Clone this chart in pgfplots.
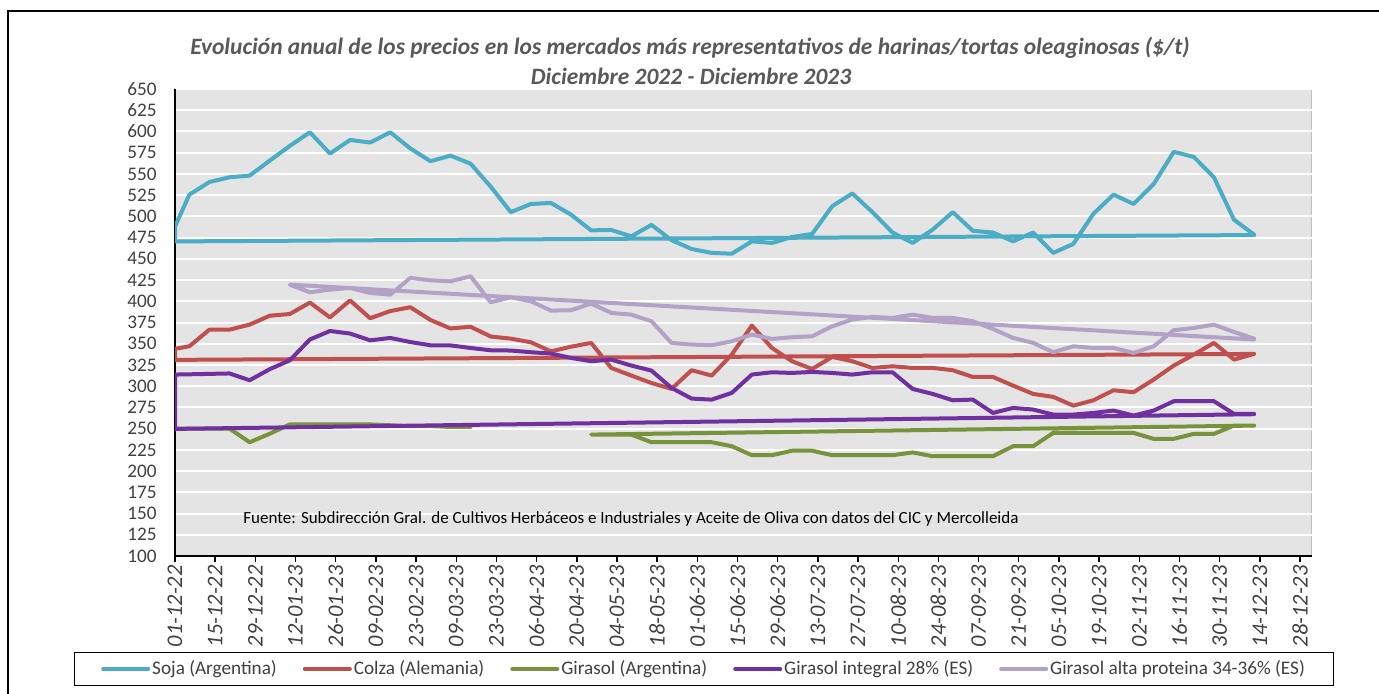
\documentclass[border=0pt]{standalone}
\usepackage{pgfplots}
\pgfplotsset{compat=1.18}
\usepackage{fontspec}
\setmainfont{Carlito}
\definecolor{soja}{HTML}{4BACC6}
\definecolor{colza}{HTML}{C0504D}
\definecolor{girasol}{HTML}{77933C}
\definecolor{integral}{HTML}{7030A0}
\definecolor{alta}{HTML}{B3A2C7}
\definecolor{plotbg}{HTML}{E4E4E4}
\definecolor{plotbd}{HTML}{BFBFBF}
\definecolor{titlegray}{HTML}{595959}
\definecolor{ticktext}{HTML}{404040}
\begin{document}
\begin{tikzpicture}
\path[use as bounding box] (0,0) rectangle (689.5pt,346.5pt);
\draw[black, line width=0.6pt] (4pt,-2pt) -- (4pt,341pt) -- (692pt,341pt);
\begin{axis}[
  at={(87.5pt,68.5pt)}, anchor=south west,
  scale only axis, width=568.25pt, height=233.5pt,
  xmin=0, xmax=396, ymin=100, ymax=650,
  axis lines=left, axis line style={-, black, line width=0.7pt},
  axis background/.style={fill=plotbg, draw=plotbd, line width=0.7pt},
  ymajorgrids, grid style={white, line width=1pt},
  ytick={100,125,...,650},
  xtick={0,14,...,392},
  xticklabels={01-12-22,15-12-22,29-12-22,12-01-23,26-01-23,09-02-23,23-02-23,09-03-23,23-03-23,06-04-23,20-04-23,04-05-23,18-05-23,01-06-23,15-06-23,29-06-23,13-07-23,27-07-23,10-08-23,24-08-23,07-09-23,21-09-23,05-10-23,19-10-23,02-11-23,16-11-23,30-11-23,14-12-23,28-12-23},
  tick align=outside,
  x tick style={black, line width=0.7pt},
  xtick pos=bottom,
  major tick length=3pt,
  y tick style={draw=none},
  /pgf/number format/assume math mode=true,
  ticklabel style={font=\fontsize{9.6}{11}\selectfont, text=ticktext},
  yticklabel style={anchor=east, inner sep=0pt, xshift=-6pt},
  xticklabel style={yshift=-1.5pt, font=\fontsize{11.2}{13}\selectfont\itshape, rotate=90, anchor=east, inner sep=0pt},
  unbounded coords=jump,
  every axis plot/.append style={line width=2pt, line cap=round, line join=round},
  legend columns=5,
  legend cell align=left,
  legend image code/.code={\draw[#1] (0pt,0pt) -- (22.5pt,0pt);},
  legend style={at={(0.4655,-0.242)}, anchor=center, draw=black, line width=0.6pt, fill=white,
    font=\fontsize{9.6}{11}\selectfont, text=ticktext, inner xsep=13.5pt, inner ysep=4pt,
    nodes={inner xsep=1pt, inner ysep=0pt},
    /tikz/every even column/.append style={column sep=12pt}},
]
\addplot[soja] coordinates {
(376,478) (0,470.5) (0,488)
(5,525.6) (12,540.5) (19,546) (26,548) (33,565.6) (40,583) (47,599) (54,574) (61,590) (68,587)
(75,599) (82,580) (89,565) (96,571.5) (103,562) (110,535) (117,505) (124,514.6) (131,515.8) (138,502)
(145,483.5) (152,484) (159,476.5) (166,490) (173,472) (180,461.6) (187,457) (194,456) (201,470.6) (208,468.7)
(215,475.7) (222,479.3) (229,512) (236,527) (243,505) (250,481) (257,468.7) (264,484.4) (271,505) (278,483)
(285,481) (292,470.6) (299,481) (306,457) (313,467.5) (320,503) (327,525.6) (334,514.6) (341,538) (348,576)
(355,570) (362,546) (369,496) (376,478.5)
};
\addlegendentry{Soja (Argentina)}
\addplot[colza] coordinates {
(376,338) (0,331) (0,344)
(5,347) (12,366.6) (19,366.6) (26,372.5) (33,383) (40,385) (47,398.5) (54,381) (61,401) (68,380)
(75,388.5) (82,393) (89,378) (96,368) (103,370) (110,358.5) (117,356) (124,351.7) (131,341) (138,346.5)
(145,351) (152,321.5) (159,312.5) (166,303.8) (173,296.8) (180,318.8) (187,312.5) (194,337.2) (201,371.4) (208,345)
(215,329.4) (222,320.3) (229,334.5) (236,329.4) (243,321.5) (250,323.5) (257,321.5) (264,321.5) (271,318.8) (278,310.9)
(285,310.9) (292,300.7) (299,290.9) (306,287.4) (313,277.1) (320,283.4) (327,295.2) (334,292.9) (341,307.8) (348,324.3)
(355,337.2) (362,351) (369,331.3) (376,338)
};
\addlegendentry{Colza (Alemania)}
\addplot[girasol] coordinates {
(0,250) (5,250) (12,250) (19,250) (26,234) (33,244) (40,255) (47,255) (54,255) (61,255) (68,255)
(75,254) (82,253) (89,253) (96,252) (103,252)
(110,nan)
(376,253.6) (145,243)
(152,243) (159,243) (166,234) (173,234) (180,234) (187,234) (194,229.3) (201,218.7) (208,218.7)
(215,224) (222,224) (229,218.7) (236,218.7) (243,218.7) (250,218.7) (257,222) (264,217.5) (271,217.5) (278,217.5)
(285,217.5) (292,229.3) (299,229.3) (306,245) (313,245) (320,245) (327,245) (334,245) (341,238) (348,238)
(355,243.8) (362,243.8) (369,253.6) (376,253.6)
};
\addlegendentry{Girasol (Argentina)}
\addplot[integral] coordinates {
(376,267) (0,249.7) (0,313.7)
(5,314) (12,314.5) (19,315) (26,307) (33,320) (40,330.5) (47,355) (54,365) (61,362) (68,354)
(75,356.8) (82,352) (89,348.2) (96,348) (103,345) (110,342.3) (117,342) (124,340) (131,338.4) (138,333.3)
(145,329.4) (152,331.3) (159,324.3) (166,318.4) (173,298) (180,285.4) (187,284.2) (194,292.1) (201,313.7) (208,316.4)
(215,315.6) (222,316.8) (229,315.6) (236,313.7) (243,316.4) (250,316.4) (257,296.8) (264,290.9) (271,283.4) (278,284.2)
(285,268.5) (292,274.4) (299,272.5) (306,266.6) (313,266.6) (320,268.5) (327,271.3) (334,265.4) (341,271.3) (348,282.3)
(355,282.3) (362,282.3) (369,267.4) (376,267.4)
};
\addlegendentry{Girasol integral 28\% (ES)}
\addplot[alta] coordinates {
(376,355) (40,419.6)
(47,410.6) (54,413.7) (61,415.7) (68,409.8)
(75,407.8) (82,427.5) (89,424.7) (96,423.5) (103,429.4) (110,398.8) (117,404.7) (124,400) (131,389) (138,389.5)
(145,397.3) (152,386.3) (159,384.3) (166,376.5) (173,351) (180,349) (187,348.2) (194,352.9) (201,360.8) (208,355.7)
(215,357.7) (222,358.8) (229,370.6) (236,378.5) (243,381.6) (250,380.4) (257,384.3) (264,380.4) (271,380.4) (278,376.5)
(285,367.4) (292,356.9) (299,351) (306,340) (313,347) (320,345) (327,345) (334,339.2) (341,347) (348,365.9)
(355,368.6) (362,372.5) (369,363.9) (376,356)
};
\addlegendentry{Girasol alta proteina 34-36\% (ES)}
\end{axis}
\node[anchor=base, font=\fontsize{11.72}{14}\selectfont\bfseries\itshape, text=titlegray] at (345pt,319.5pt)
  {Evolución anual de los precios en los mercados más representativos de harinas/tortas oleaginosas (\$/t)};
\node[anchor=base, font=\fontsize{11.72}{14}\selectfont\bfseries\itshape, text=titlegray] at (345.5pt,304.5pt)
  {Diciembre 2022 - Diciembre 2023};
\node[anchor=base west, inner sep=0pt, font=\fontsize{8.5}{10}\selectfont, text=black] at (121.5pt,84.85pt)
  {Fuente: Subdirección Gral. de Cultivos Herbáceos e Industriales y Aceite de Oliva con datos del CIC y Mercolleida};
\end{tikzpicture}
\end{document}
